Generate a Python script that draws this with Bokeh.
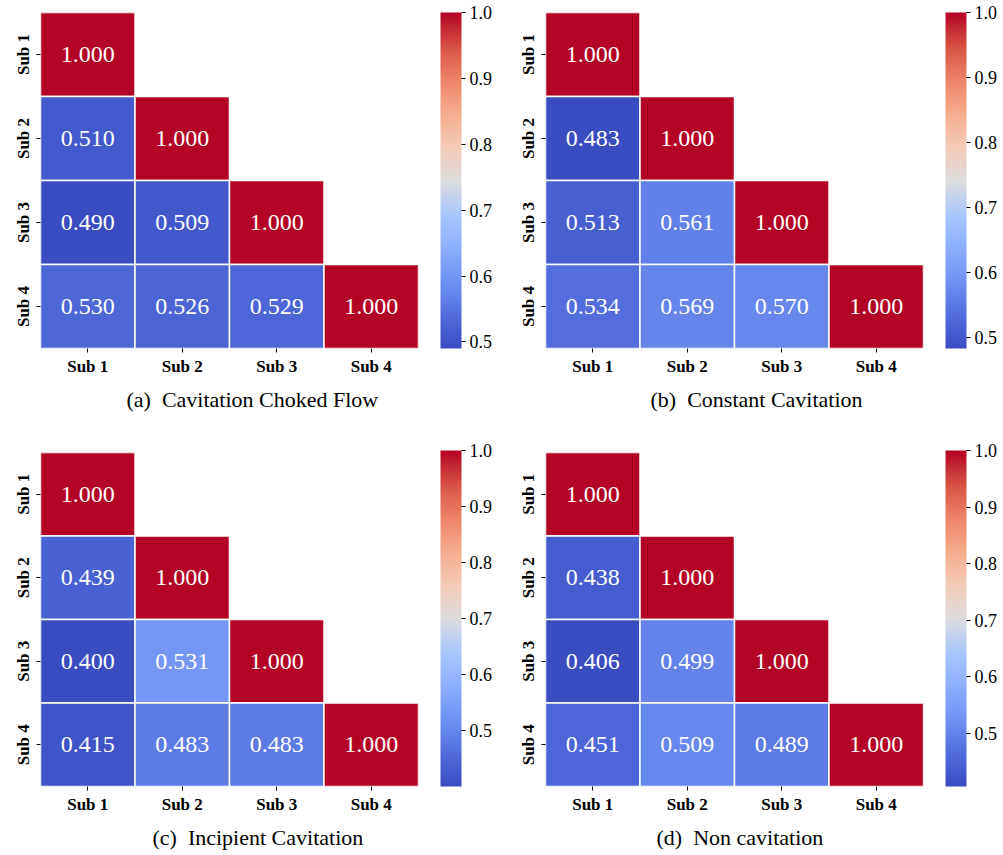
import numpy as np
from bokeh.plotting import figure
from bokeh.models import (ColumnDataSource, LinearColorMapper, ColorBar, FixedTicker,
                          PrintfTickFormatter, Title, FactorRange)
from bokeh.layouts import gridplot
from bokeh.transform import transform
from bokeh.core.properties import value
from bokeh.embed import file_html
from bokeh.resources import INLINE

subs = ["Sub 1", "Sub 2", "Sub 3", "Sub 4"]

# lower-triangular correlation matrices (row i, columns 0..i)
corr_a = [[1.000], [0.510, 1.000], [0.490, 0.509, 1.000], [0.530, 0.526, 0.529, 1.000]]
corr_b = [[1.000], [0.483, 1.000], [0.513, 0.561, 1.000], [0.534, 0.569, 0.570, 1.000]]
corr_c = [[1.000], [0.439, 1.000], [0.400, 0.531, 1.000], [0.415, 0.483, 0.483, 1.000]]
corr_d = [[1.000], [0.438, 1.000], [0.406, 0.499, 1.000], [0.451, 0.509, 0.489, 1.000]]

captions = ["(a)\u00a0 Cavitation Choked Flow", "(b)\u00a0 Constant Cavitation",
            "(c)\u00a0 Incipient Cavitation", "(d)\u00a0 Non cavitation"]
cbar_ticks = [0.5, 0.6, 0.7, 0.8, 0.9, 1.0]

# coolwarm colormap anchors
cw_anchor = ["#3b4cc0", "#536edd", "#6f92f3", "#8db0fe", "#aac7fd", "#dddcdc",
             "#f2cbb7", "#f7ac8e", "#ee8468", "#d65244", "#b40426"]


def make_palette(anchors, n=256):
    rgb = np.array([[int(h[i:i + 2], 16) for i in (1, 3, 5)] for h in anchors], float)
    xs = np.linspace(0, 1, len(anchors))
    t = np.linspace(0, 1, n)
    out = []
    for tt in t:
        c = [np.interp(tt, xs, rgb[:, k]) for k in range(3)]
        out.append("#%02x%02x%02x" % tuple(int(round(v)) for v in c))
    return out


palette = make_palette(cw_anchor)
SERIF = "Liberation Serif"
FRAME_W, FRAME_H = 378, 336


def panel(mat, caption, width, height, top, caption_offset):
    xs, ys, vals, labels = [], [], [], []
    for i, row in enumerate(mat):
        for j, v in enumerate(row):
            xs.append(subs[j])
            ys.append(subs[i])
            vals.append(v)
            labels.append("%.3f" % v)
    src = ColumnDataSource(dict(x=xs, y=ys, v=vals, t=labels))
    mapper = LinearColorMapper(palette=palette, low=min(vals), high=1.0)

    p = figure(width=width, height=height, x_range=FactorRange(*subs),
               y_range=FactorRange(*subs[::-1]), output_backend="svg",
               toolbar_location=None, min_border_left=40,
               min_border_right=width - 40 - FRAME_W,
               min_border_top=top, min_border_bottom=height - top - FRAME_H)
    p.rect(x="x", y="y", width=1, height=1, source=src,
           fill_color=transform("v", mapper), line_color="white", line_width=1.5)
    p.text(x="x", y="y", text="t", source=src, text_align="center", text_baseline="middle",
           text_color="white", text_font=value(SERIF), text_font_size="24px")

    p.grid.grid_line_color = None
    p.outline_line_color = None
    p.background_fill_color = "white"
    for ax in (p.xaxis[0], p.yaxis[0]):
        ax.axis_line_color = None
        ax.major_tick_in = 0
        ax.major_tick_out = 4
        ax.major_tick_line_color = "black"
        ax.minor_tick_line_color = None
        ax.major_label_text_font = SERIF
        ax.major_label_text_font_style = "bold"
        ax.major_label_text_font_size = "17px"
        ax.major_label_text_color = "black"
        ax.major_label_standoff = 4
    p.yaxis[0].major_label_orientation = "vertical"

    cb = ColorBar(color_mapper=mapper, ticker=FixedTicker(ticks=cbar_ticks),
                  formatter=PrintfTickFormatter(format="%.1f"), width=21, height=FRAME_H,
                  padding=0, margin=0, bar_line_color=None, major_tick_in=0, major_tick_out=4,
                  major_tick_line_color="black", minor_tick_line_color=None,
                  major_label_text_font=SERIF, major_label_text_font_size="18px",
                  major_label_text_color="black", label_standoff=4,
                  background_fill_alpha=0, border_line_color=None, location=(22, 0))
    p.add_layout(cb, "right")

    p.add_layout(Title(text=caption, align="left", offset=caption_offset,
                       text_font=SERIF, text_font_size="22px", text_font_style="normal",
                       text_color="black", standoff=12), "below")
    return p


mats = [corr_a, corr_b, corr_c, corr_d]
widths = [505, 495, 505, 495]
heights = [438, 438, 417, 417]
tops = [12, 12, 14, 14]
offsets = [86, 105, 112, 111]
figs = [panel(m, c, w, h, t, o) for m, c, w, h, t, o in
        zip(mats, captions, widths, heights, tops, offsets)]

grid = gridplot([[figs[0], figs[1]], [figs[2], figs[3]]], toolbar_location=None)
open("out.html", "w").write(file_html(grid, INLINE))
